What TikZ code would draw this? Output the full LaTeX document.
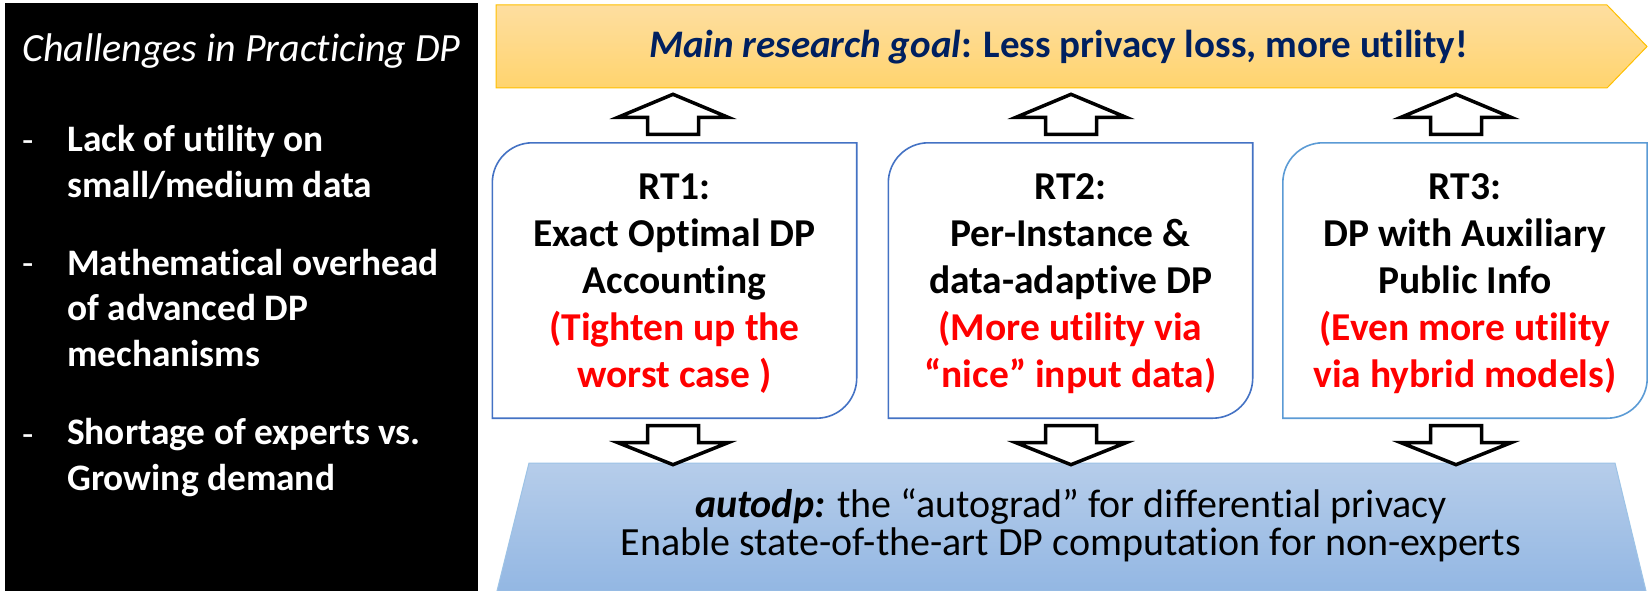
\documentclass[tikz,border=0pt]{standalone}
\usepackage{fontspec}
\setmainfont[Ligatures=NoCommon]{Carlito}
\usetikzlibrary{calc}
\definecolor{navy}{RGB}{0,32,96}
\definecolor{bannertop}{RGB}{254,222,160}
\definecolor{bannerbot}{RGB}{255,212,110}
\definecolor{bannerline}{RGB}{255,192,0}
\definecolor{basetop}{RGB}{182,205,234}
\definecolor{basebot}{RGB}{147,183,227}
\definecolor{baseline}{RGB}{157,195,230}
\definecolor{rtblue}{RGB}{68,114,196}
\definecolor{rtlight}{RGB}{91,155,213}
\definecolor{hotred}{RGB}{255,0,0}

% multi-line nodes are anchored at the baseline of their last line
\tikzset{
  titletext/.style={text=white, inner sep=0pt, anchor=base west,
    font=\fontsize{40}{45}\selectfont\itshape},
  dashtext/.style={text=white, inner sep=0pt, anchor=base west,
    font=\fontsize{37}{45}\selectfont},
  itemtext/.style={text=white, inner sep=0pt, anchor=base west, align=left,
    font=\fontsize{37.4}{45.5}\selectfont\bfseries},
  rtbox/.style={rectangle, draw=none, inner sep=0pt,
    minimum width=364pt, minimum height=275pt},
  rttext/.style={inner sep=0pt, anchor=base, align=center,
    font=\fontsize{39.5}{47}\selectfont\bfseries},
  goaltext/.style={inner sep=0pt, anchor=base, text=navy,
    font=\fontsize{39}{45}\selectfont\bfseries},
  basetext/.style={inner sep=0pt, anchor=base, align=center,
    font=\fontsize{40}{38}\selectfont},
  blockarrow/.style={draw=black, fill=white, line width=3.5pt, line join=miter},
  pics/uparrow/.style={code={
    \draw[blockarrow] (-25.5,0) -- (-25.5,-17) -- (-55,-17) -- (0,-40)
      -- (55,-17) -- (25.5,-17) -- (25.5,0) -- cycle;}},
  pics/downarrow/.style={code={
    \draw[blockarrow] (-25.5,0) -- (-25.5,17) -- (-55,17) -- (0,39)
      -- (55,17) -- (25.5,17) -- (25.5,0) -- cycle;}},
}

% outline of a research-thrust box: rounded top-left and bottom-right corners
\newcommand\rtoutline[2]{%
  \draw[#2, line width=1.6pt, fill=white]
    (#1.south west) -- ($(#1.north west)+(0,40)$)
    .. controls ($(#1.north west)+(0,18)$) and ($(#1.north west)+(18,0)$) ..
    ($(#1.north west)+(40,0)$) -- (#1.north east) -- ($(#1.south east)+(0,-40)$)
    .. controls ($(#1.south east)+(0,-18)$) and ($(#1.south east)+(-18,0)$) ..
    ($(#1.south east)+(-40,0)$) -- cycle;}

\begin{document}
\begin{tikzpicture}[x=1pt,y=-1pt]
\useasboundingbox (0,0) rectangle (1648,591);
\fill[white] (0,0) rectangle (1648,591);

% left panel: challenges
\fill[black] (5,3) rectangle (478,591);
\node[titletext] (title) at (22,62) {Challenges in Practicing DP};
\node[dashtext] (d1) at (22,152) {-};
\node[itemtext] (c1) at (67,197) {Lack of utility on\\small/medium data};
\node[dashtext] (d2) at (22,275) {-};
\node[itemtext] (c2) at (67,366) {Mathematical overhead\\of advanced DP\\mechanisms};
\node[dashtext] (d3) at (22,446) {-};
\node[itemtext] (c3) at (67,490) {Shortage of experts vs.\\Growing demand};

% main goal banner
\shadedraw[top color=bannertop, bottom color=bannerbot, draw=bannerline, line width=1pt]
  (496,5) -- (1607,5) -- (1647,46.5) -- (1607,88) -- (496,88) -- cycle;
\node[goaltext] (goal) at (1058.5,58)
  {\textit{Main research goal}: Less privacy loss, more utility!};

% autodp base
\shadedraw[top color=basetop, bottom color=basebot, draw=baseline, line width=1pt]
  (529,463) -- (1615,463) -- (1646,591) -- (497,591) -- cycle;
\node[basetext] (autodp) at (1071,555)
  {\textbf{\textit{autodp:}} the “autograd” for differential privacy\\
   Enable state-of-the-art DP computation for non-experts};

% research thrusts
\node[rtbox] (box1) at (674.5,280.5) {};
\node[rtbox] (box2) at (1070.5,280.5) {};
\node[rtbox] (box3) at (1465,280.5) {};
\rtoutline{box1}{rtblue}
\rtoutline{box2}{rtblue}
\rtoutline{box3}{rtlight}

\node[rttext] (t1) at (674.5,387) {RT1:\\Exact Optimal DP\\Accounting\\
  \textcolor{hotred}{(Tighten up the}\\\textcolor{hotred}{worst case )}};
\node[rttext] (t2) at (1070.5,387) {RT2:\\Per-Instance \&\\data-adaptive DP\\
  \textcolor{hotred}{(More utility via}\\\textcolor{hotred}{“nice” input data)}};
\node[rttext] (t3) at (1465,387) {RT3:\\DP with Auxiliary\\Public Info\\
  \textcolor{hotred}{(Even more utility}\\\textcolor{hotred}{via hybrid models)}};

% block arrows: thrusts feed the goal and the library
\pic at ($(box1.north)+(-1.5,-8.5)$) {uparrow};
\pic at ($(box2.north)+(0.5,-8.5)$) {uparrow};
\pic at ($(box3.north)+(-9,-8.5)$) {uparrow};
\pic at ($(box1.south)+(-1.5,7.5)$) {downarrow};
\pic at ($(box2.south)+(0.5,7.5)$) {downarrow};
\pic at ($(box3.south)+(-9,7.5)$) {downarrow};
\end{tikzpicture}
\end{document}
